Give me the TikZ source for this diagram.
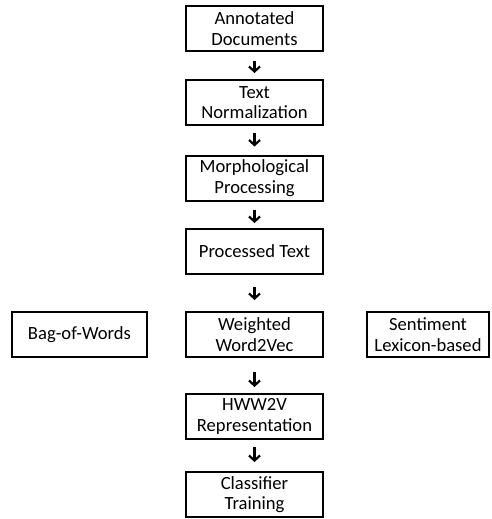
\documentclass[tikz,border=0pt]{standalone}
\usepackage{fontspec}
\setmainfont{Carlito}
\usepackage{tikz}
\usetikzlibrary{arrows.meta}
\usetikzlibrary{positioning}

\begin{document}
\begin{tikzpicture}[->,>={Straight Barb[length=5pt,width=11pt]},line width=2.2pt,on grid,
                    box/.style={draw, line width=2pt, minimum width=137pt, minimum height=45pt,
                                inner sep=0pt, align=center, font=\fontsize{18.6}{20.5}\selectfont}]

\useasboundingbox (0,0) rectangle (491pt,-519pt);

\node[box] (AD) at (254.5pt,-28.5pt) {Annotated\\Documents};
\node[box] (TN) [below=74pt of AD] {Text\\Normalization};
\node[box] (MP) [below=75.5pt of TN] {Morphological\\Processing};
\node[box] (PT) [below=73.5pt of MP] {Processed Text};
\node[box] (WW) [below=83pt of PT] {Weighted\\Word2Vec};
\node[box] (HW) [below=82pt of WW] {HWW2V\\Representation};
\node[box] (CT) [below=78pt of HW] {Classifier\\Training};
\node[box, minimum width=135pt] (BW) [left=175pt of WW] {Bag-of-Words};
\node[box, minimum width=122pt] (SL) [right=173.5pt of WW] {Sentiment\\Lexicon-based};

\path
	(AD) edge[shorten <=9pt, shorten >=6pt] (TN)
	(TN) edge[shorten <=7pt, shorten >=8pt] (MP)
	(MP) edge[shorten <=8pt, shorten >=5pt] (PT)
	(PT) edge[shorten <=12pt, shorten >=11pt] (WW)
	(WW) edge[shorten <=14pt, shorten >=6pt] (HW)
	(HW) edge[shorten <=7pt, shorten >=9pt] (CT)
	;

\end{tikzpicture}
\end{document}
